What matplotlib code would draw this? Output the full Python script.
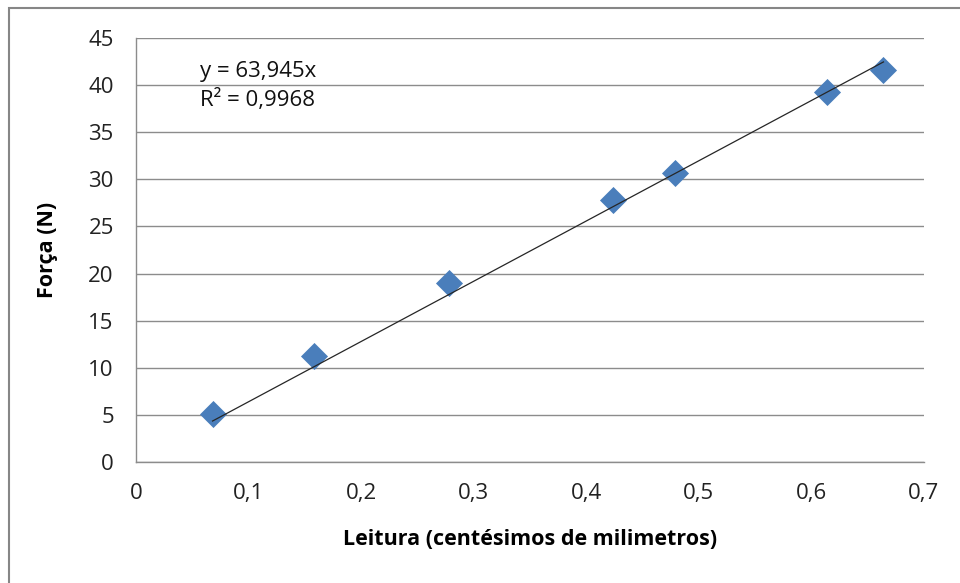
import numpy as np
import matplotlib
matplotlib.use("Agg")
import matplotlib.pyplot as plt
from matplotlib.patches import Rectangle

# leituras do relogio comparador e forca aplicada
leitura = [0.068, 0.158, 0.278, 0.424, 0.479, 0.614, 0.664]
forca = [5.1, 11.3, 19.0, 27.8, 30.7, 39.3, 41.6]

# linha de tendencia (passando pela origem)
coef = 63.945
r2 = 0.9968

x_ticks = [0, 0.1, 0.2, 0.3, 0.4, 0.5, 0.6, 0.7]
y_ticks = [0, 5, 10, 15, 20, 25, 30, 35, 40, 45]

plt.rcParams['font.family'] = ['Open Sans', 'DejaVu Sans']

fig = plt.figure(figsize=(9.6, 5.83), dpi=100)
# moldura externa do grafico
fig.patches.append(Rectangle((9 / 960, -0.1), 1.2, 1 - 8 / 583 + 0.1,
                             transform=fig.transFigure, fill=False,
                             edgecolor='#868686', linewidth=1.5))

ax = fig.add_axes([136 / 960, 1 - 462 / 583, (924 - 136) / 960, (462 - 38) / 583])

ax.set_xlim(0, 0.7)
ax.set_ylim(0, 45)
ax.set_xticks(x_ticks)
ax.set_yticks(y_ticks)
ax.set_xticklabels([("%g" % v).replace('.', ',') for v in x_ticks])
ax.set_yticklabels([str(v) for v in y_ticks])
ax.tick_params(axis='both', length=0, labelsize=16, colors='#222222')
ax.tick_params(axis='x', pad=15)
ax.tick_params(axis='y', pad=16)

ax.grid(axis='y', color='#8c8c8c', linewidth=1)
ax.set_axisbelow(True)
for s in ['top', 'right']:
    ax.spines[s].set_visible(False)
for s in ['left', 'bottom']:
    ax.spines[s].set_color('#8c8c8c')
    ax.spines[s].set_linewidth(1)

# linha de tendencia entre a primeira e a ultima leitura
xt = np.array([min(leitura), max(leitura)])
ax.plot(xt, coef * xt, color='#262626', linewidth=0.9, zorder=3)

ax.scatter(leitura, forca, marker='D', s=190, color='#4a7ebb', zorder=2, linewidths=0)

eq = "y = %sx\nR² = %s" % (('%.3f' % coef).replace('.', ','), ('%.4f' % r2).replace('.', ','))
ax.text(0.081, 0.946, eq, transform=ax.transAxes, fontsize=16, va='top', ha='left',
        linespacing=1.4, color='#111111')

ax.set_xlabel("Leitura (centésimos de milimetros)", fontsize=15.5, fontweight='bold', labelpad=18)
ax.set_ylabel("Força (N)", fontsize=15.5, fontweight='bold', labelpad=22)

fig.savefig("out.png", dpi=100)
